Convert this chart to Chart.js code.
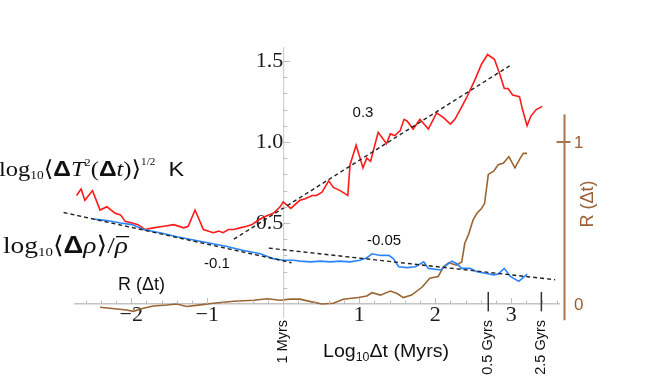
<!DOCTYPE html>
<html>
<head>
<meta charset="utf-8">
<script src="https://cdn.jsdelivr.net/npm/chart.js@4"></script>
<style>
  html, body { margin: 0; padding: 0; background: #fff; }
  #wrap { width: 662px; height: 383px; position: relative; }
</style>
</head>
<body>
<div id="wrap"><canvas id="chart"></canvas></div>
<script>
// log10 of the time lag (Myrs) on x
const temp_x = [-2.72, -2.66, -2.61, -2.51, -2.41, -2.32, -2.21, -2.14, -2.08, -1.99, -1.91, -1.82, -1.71, -1.57, -1.44, -1.31, -1.25, -1.16, -1.05, -0.92, -0.85, -0.79, -0.72, -0.65, -0.57, -0.48, -0.41, -0.32, -0.24, -0.13, -0.04, 0.0, 0.1, 0.22, 0.29, 0.38, 0.44, 0.51, 0.6, 0.66, 0.75, 0.85, 0.88, 0.96, 1.05, 1.1, 1.15, 1.25, 1.36, 1.41, 1.47, 1.54, 1.59, 1.63, 1.71, 1.8, 1.91, 2.02, 2.11, 2.2, 2.26, 2.33, 2.41, 2.52, 2.61, 2.69, 2.78, 2.85, 2.91, 2.96, 3.02, 3.11, 3.15, 3.21, 3.26, 3.33, 3.41];
const temp_y = [0.67, 0.71, 0.64, 0.7, 0.58, 0.6, 0.56, 0.55, 0.51, 0.5, 0.49, 0.46, 0.47, 0.48, 0.49, 0.47, 0.48, 0.58, 0.46, 0.44, 0.45, 0.44, 0.46, 0.46, 0.47, 0.48, 0.49, 0.52, 0.54, 0.56, 0.6, 0.63, 0.59, 0.64, 0.65, 0.67, 0.67, 0.69, 0.76, 0.72, 0.7, 0.67, 0.86, 0.98, 0.84, 0.9, 0.88, 1.06, 0.99, 1.05, 1.04, 1.07, 1.14, 1.13, 1.08, 1.14, 1.08, 1.18, 1.15, 1.11, 1.14, 1.2, 1.27, 1.38, 1.48, 1.54, 1.51, 1.42, 1.33, 1.33, 1.29, 1.28, 1.2, 1.1, 1.16, 1.2, 1.22];

const rho_x = [-2.5, -2.32, -2.14, -1.99, -1.84, -1.62, -1.4, -1.18, -0.96, -0.74, -0.52, -0.3, -0.13, 0.0, 0.14, 0.22, 0.36, 0.49, 0.62, 0.75, 0.88, 1.01, 1.1, 1.17, 1.28, 1.39, 1.45, 1.52, 1.63, 1.74, 1.85, 1.91, 2.0, 2.07, 2.15, 2.22, 2.28, 2.35, 2.46, 2.55, 2.66, 2.77, 2.83, 2.91, 2.99, 3.1, 3.15, 3.21];
const rho_y = [0.525, 0.515, 0.5, 0.49, 0.46, 0.44, 0.415, 0.395, 0.375, 0.355, 0.33, 0.31, 0.28, 0.27, 0.27, 0.265, 0.26, 0.265, 0.26, 0.265, 0.26, 0.27, 0.285, 0.31, 0.3, 0.3, 0.28, 0.23, 0.225, 0.23, 0.26, 0.22, 0.215, 0.21, 0.24, 0.265, 0.25, 0.22, 0.22, 0.2, 0.19, 0.18, 0.185, 0.22, 0.17, 0.14, 0.16, 0.185];

const corr_x = [-2.41, -2.06, -1.97, -1.88, -1.71, -1.53, -1.4, -1.27, -1.09, -0.92, -0.65, -0.39, -0.21, -0.04, 0.09, 0.22, 0.36, 0.51, 0.66, 0.79, 0.99, 1.1, 1.17, 1.28, 1.41, 1.5, 1.58, 1.69, 1.83, 1.93, 2.04, 2.11, 2.18, 2.28, 2.35, 2.39, 2.44, 2.5, 2.55, 2.61, 2.65, 2.7, 2.77, 2.83, 2.9, 2.97, 3.05, 3.12, 3.16, 3.21];
const corr_y = [-0.02, -0.037, -0.045, -0.03, -0.012, -0.006, 0.0, -0.015, -0.005, 0.005, 0.017, 0.023, 0.033, 0.023, 0.03, 0.03, 0.015, 0.0, 0.005, 0.03, 0.04, 0.05, 0.07, 0.055, 0.08, 0.065, 0.04, 0.055, 0.105, 0.16, 0.17, 0.23, 0.255, 0.24, 0.26, 0.375, 0.43, 0.52, 0.56, 0.59, 0.62, 0.8, 0.82, 0.86, 0.87, 0.91, 0.84, 0.9, 0.93, 0.93];

// fitted slopes (two end points each)
const fit_rho_x = [-2.89, 0.11];
const fit_rho_y = [0.565, 0.255];
const fit_temp_x = [-0.65, 2.98];
const fit_temp_y = [0.4, 1.47];
const fit_late_x = [-0.19, 3.58];
const fit_late_y = [0.345, 0.15];

const x_ticks = [-2, -1, 1, 2, 3];
const y_ticks = [0.5, 1.0, 1.5];
const r_ticks = [0, 1];
const marker_vals = [0, Math.log10(500), Math.log10(2500)];
const marker_labels = ["1 Myrs", "0.5 Gyrs", "2.5 Gyrs"];
const slope_labels = ["-0.1", "0.3", "-0.05"];

const SERIF = '"Liberation Serif", "DejaVu Serif", serif';
const SANS = '"Liberation Sans", Arial, sans-serif';
const BROWN = "#9a6532";

const toPoints = (xs, ys) => xs.map((x, i) => ({ x: x, y: ys[i] }));

const fitLine = (xs, ys) => ({
  data: toPoints(xs, ys),
  borderColor: "#222",
  borderWidth: 1.4,
  borderDash: [4, 3],
  pointRadius: 0,
  clip: false,
  order: 0,
});

const drawRich = (ctx, x, y, parts, width) => {
  ctx.save();
  let total = 0;
  parts.forEach(([t, f]) => {
    ctx.font = f;
    total += ctx.measureText(t).width;
  });
  ctx.translate(x, y);
  if (width) ctx.scale(width / total, 1);
  ctx.textAlign = "left";
  ctx.textBaseline = "alphabetic";
  let cx = 0;
  parts.forEach(([t, f, dy, over]) => {
    ctx.font = f;
    const w = ctx.measureText(t).width;
    ctx.fillText(t, cx, dy || 0);
    if (over) {
      ctx.fillRect(cx + 1, -17, w, 1.3);
    }
    cx += w;
  });
  ctx.restore();
};

const decorations = {
  id: "decorations",
  afterDraw(chart) {
    const { ctx, scales } = chart;
    const x = scales.x;
    const y = scales.y;
    const r = scales.yR;
    const x0 = x.getPixelForValue(0);
    const y0 = y.getPixelForValue(0);
    ctx.save();

    // minor ticks on both axes
    ctx.strokeStyle = "#bdbdbd";
    ctx.lineWidth = 1;
    for (let v = -2.6; v < 3.62; v += 0.2) {
      const px = Math.round(x.getPixelForValue(v)) + 0.5;
      const major = Math.abs(v - Math.round(v)) < 0.01;
      ctx.beginPath();
      ctx.moveTo(px, y0);
      ctx.lineTo(px, y0 - (major ? 6 : 3.5));
      ctx.stroke();
    }
    for (let v = 0.1; v < 1.56; v += 0.1) {
      const py = Math.round(y.getPixelForValue(v)) + 0.5;
      const major = Math.abs(v * 2 - Math.round(v * 2)) < 0.01;
      ctx.beginPath();
      ctx.moveTo(x0, py);
      ctx.lineTo(x0 + (major ? 7 : 4), py);
      ctx.stroke();
    }

    // markers for 0.5 Gyrs and 2.5 Gyrs
    ctx.strokeStyle = "#333";
    ctx.lineWidth = 1.5;
    marker_vals.slice(1).forEach((v) => {
      const px = x.getPixelForValue(v);
      ctx.beginPath();
      ctx.moveTo(px, y.getPixelForValue(0.075));
      ctx.lineTo(px, y.getPixelForValue(-0.045));
      ctx.stroke();
    });
    ctx.fillStyle = "#111";
    ctx.font = "14.5px " + SANS;
    ctx.textAlign = "right";
    ctx.textBaseline = "middle";
    marker_vals.forEach((v, i) => {
      ctx.save();
      ctx.translate(x.getPixelForValue(v), 320);
      ctx.rotate(-Math.PI / 2);
      ctx.fillText(marker_labels[i], 0, 0);
      ctx.restore();
    });

    // slope annotations
    ctx.textAlign = "center";
    ctx.font = "15px " + SANS;
    ctx.fillText(slope_labels[0], 217, 264);
    ctx.fillText(slope_labels[1], 363, 113);
    ctx.fillText(slope_labels[2], 384, 241);

    // axis title
    ctx.fillStyle = "#111";
    drawRich(ctx, 323, 357, [
      ["Log", "19px " + SANS],
      ["10", "12px " + SANS, 4],
      ["\u0394t (Myrs)", "19px " + SANS],
    ], 126);

    // left series labels
    drawRich(ctx, -1, 176, [
      ["log", "22px " + SERIF],
      ["10", "12px " + SERIF, 3],
      ["\u27E8", "22px " + SERIF],
      ["\u0394", "bold 22px " + SANS],
      ["T", "italic 22px " + SERIF],
      ["2", "11px " + SERIF, -10],
      ["(", "22px " + SERIF],
      ["\u0394", "bold 22px " + SANS],
      ["t", "italic 22px " + SERIF],
      [")", "22px " + SERIF],
      ["\u27E9", "22px " + SERIF],
      ["1/2", "10px " + SERIF, -11],
      ["  K", "21px " + SANS],
    ], 185);
    drawRich(ctx, 3, 253, [
      ["log", "24px " + SERIF],
      ["10", "13px " + SERIF, 3],
      ["\u27E8", "24px " + SERIF],
      ["\u0394", "bold 24px " + SANS],
      ["\u03C1", "italic 24px " + SERIF],
      ["\u27E9", "24px " + SERIF],
      ["/", "24px " + SERIF],
      ["\u03C1", "italic 24px " + SERIF, 0, true],
    ], 125);
    ctx.font = "18px " + SANS;
    ctx.textAlign = "left";
    ctx.textBaseline = "alphabetic";
    ctx.fillText("R (\u0394t)", 118, 290);

    // right axis for R(dt)
    const rx = 564.5;
    ctx.strokeStyle = "#a8744e";
    ctx.lineWidth = 2;
    ctx.beginPath();
    ctx.moveTo(rx, r.getPixelForValue(1.17));
    ctx.lineTo(rx, r.getPixelForValue(-0.1));
    ctx.stroke();
    const r1 = r.getPixelForValue(r_ticks[1]);
    ctx.beginPath();
    ctx.moveTo(rx - 8, r1);
    ctx.lineTo(rx + 6, r1);
    ctx.stroke();
    ctx.fillStyle = "#9a5f35";
    ctx.font = "17px " + SANS;
    ctx.textAlign = "left";
    ctx.textBaseline = "middle";
    r_ticks.forEach((v) => {
      ctx.fillText(String(v), 574, r.getPixelForValue(v) + 1);
    });
    ctx.save();
    ctx.translate(588, 204);
    ctx.rotate(-Math.PI / 2);
    ctx.textAlign = "center";
    ctx.font = "18px " + SANS;
    ctx.fillText("R (\u0394t)", 0, 0);
    ctx.restore();

    ctx.restore();
  },
};

new Chart(document.getElementById("chart"), {
  type: "line",
  data: {
    datasets: [
      fitLine(fit_rho_x, fit_rho_y),
      fitLine(fit_temp_x, fit_temp_y),
      fitLine(fit_late_x, fit_late_y),
      {
        label: "rho",
        data: toPoints(rho_x, rho_y),
        borderColor: "#2a84ff",
        borderWidth: 1.6,
        pointRadius: 0,
        order: 1,
      },
      {
        label: "temp",
        data: toPoints(temp_x, temp_y),
        borderColor: "#ff1a1a",
        borderWidth: 1.6,
        pointRadius: 0,
        order: 2,
      },
      {
        label: "R",
        data: toPoints(corr_x, corr_y),
        yAxisID: "yR",
        borderColor: BROWN,
        borderWidth: 1.6,
        pointRadius: 0,
        order: 3,
      },
    ],
  },
  options: {
    responsive: true,
    maintainAspectRatio: false,
    animation: false,
    layout: {
      padding: { left: 75, right: 103, top: 48, bottom: 66 },
    },
    plugins: {
      legend: { display: false },
      tooltip: { enabled: false },
    },
    scales: {
      x: {
        type: "linear",
        min: -2.74,
        max: 3.63,
        position: { y: 0 },
        grid: { display: false },
        border: { color: "#c4c4c4", width: 1.5 },
        afterBuildTicks: (axis) => {
          axis.ticks = x_ticks.map((value) => ({ value }));
        },
        ticks: {
          autoSkip: false,
          maxRotation: 0,
          padding: -10,
          color: "#1a1a1a",
          font: { family: SERIF, size: 22 },
          callback: (value) => (value < 0 ? "\u2212" + Math.abs(value) : String(value)),
        },
      },
      y: {
        type: "linear",
        min: -0.08,
        max: 1.58,
        position: { x: 0 },
        grid: { display: false },
        border: { color: "#d0d0d0", width: 1.2 },
        afterBuildTicks: (axis) => {
          axis.ticks = y_ticks.map((value) => ({ value }));
        },
        ticks: {
          autoSkip: false,
          padding: 5,
          color: "#1a1a1a",
          font: { family: SERIF, size: 22 },
          callback: (value) => value.toFixed(1),
        },
      },
      yR: {
        type: "linear",
        axis: "y",
        min: -0.08,
        max: 1.58,
        display: false,
      },
    },
  },
  plugins: [decorations],
});
</script>
</body>
</html>
